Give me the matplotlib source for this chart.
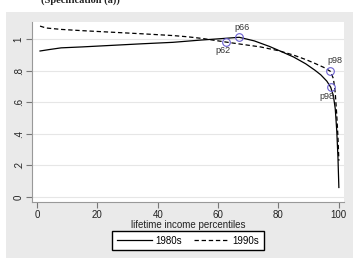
import matplotlib.pyplot as plt
from matplotlib.patches import Rectangle

# percentile grid and index values
pct_80s = [1, 4, 8, 15, 25, 35, 45, 54, 60, 67, 72, 77, 81, 85, 89, 92, 94, 96, 97.3, 98.2, 98.8, 99.3, 99.7, 100]
val_80s = [0.926, 0.935, 0.946, 0.952, 0.962, 0.972, 0.981, 0.995, 1.003, 1.013, 0.99, 0.955, 0.922, 0.888,
           0.845, 0.805, 0.775, 0.735, 0.696, 0.64, 0.56, 0.42, 0.25, 0.06]

pct_90s = [1, 3, 8, 15, 25, 35, 45, 50, 55, 58, 62.5, 68, 74, 80, 85, 89, 92, 95, 97.2, 98.2, 98.8, 99.3, 99.7, 100]
val_90s = [1.084, 1.072, 1.063, 1.055, 1.045, 1.035, 1.024, 1.016, 1.005, 0.996, 0.983, 0.968, 0.952, 0.928,
           0.90, 0.872, 0.848, 0.822, 0.797, 0.75, 0.66, 0.52, 0.38, 0.23]

# highlighted points: (x, y, label, offset in points)
marks = [
    (67, 1.013, "p66", (1.7, 7.2)),
    (62.5, 0.983, "p62", (-1.7, -5.8)),
    (97.2, 0.797, "p98", (3.1, 7.6)),
    (97.3, 0.696, "p98", (-3.1, -6.8)),
]

x_ticks = [0, 20, 40, 60, 80, 100]
y_ticks = [0, 0.2, 0.4, 0.6, 0.8, 1.0]
y_tick_labels = ["0", ".2", ".4", ".6", ".8", "1"]

plt.rcParams['font.family'] = ['Liberation Sans', 'DejaVu Sans']

W, H = 353, 258
fig = plt.figure(figsize=(W / 100, H / 100), dpi=100, facecolor='white')

# Stata-like grey graph region
fig.patches.append(Rectangle((6 / W, 0), 1 - 6 / W, 1 - 12 / H, transform=fig.transFigure,
                             facecolor='#eaeaea', edgecolor='none', zorder=-5))
fig.text(80 / W, 1.0, "(Specification (a))", family='Liberation Serif', fontsize=7.5,
         ha='center', va='center', color='#222222', weight='bold')

ax = fig.add_axes([32 / W, 56 / H, 312 / W, 180 / H])
ax.set_facecolor('white')

ax.plot(pct_80s, val_80s, color='black', lw=0.9, label='1980s')
ax.plot(pct_90s, val_90s, color='black', lw=0.9, dashes=(3.5, 2.2), label='1990s')

for x, y, lab, off in marks:
    ax.plot(x, y, 'o', ms=5.5, mfc='none', mec='#6a5fd0', mew=0.8)
    ax.annotate(lab, (x, y), xytext=off, textcoords='offset points', ha='center', va='center',
                fontsize=6.5, color='#333333')

ax.set_xlim(-1.66, 101.7)
ax.set_ylim(-0.032, 1.11)
ax.set_xticks(x_ticks)
ax.set_yticks(y_ticks)
ax.set_yticklabels(y_tick_labels, rotation=90, va='center')
ax.tick_params(labelsize=7, length=4, width=0.8, color='#777777', labelcolor='#222222', pad=2)
ax.grid(axis='y', color='#e6e6e6', lw=0.8)
ax.set_axisbelow(True)
for s in ['top', 'right']:
    ax.spines[s].set_visible(False)
for s in ['left', 'bottom']:
    ax.spines[s].set_color('#999999')
    ax.spines[s].set_linewidth(0.8)

ax.set_xlabel('lifetime income percentiles', fontsize=7, color='#222222', labelpad=0)

fig.legend(loc='center', bbox_to_anchor=(188 / W, 1 - 240.5 / H), ncol=2, fontsize=7,
           frameon=True, fancybox=False, edgecolor='black', framealpha=1,
           handlelength=3.6, columnspacing=1.2, borderpad=0.5, handletextpad=0.4)

fig.savefig('out.png', dpi=100, facecolor=fig.get_facecolor())
